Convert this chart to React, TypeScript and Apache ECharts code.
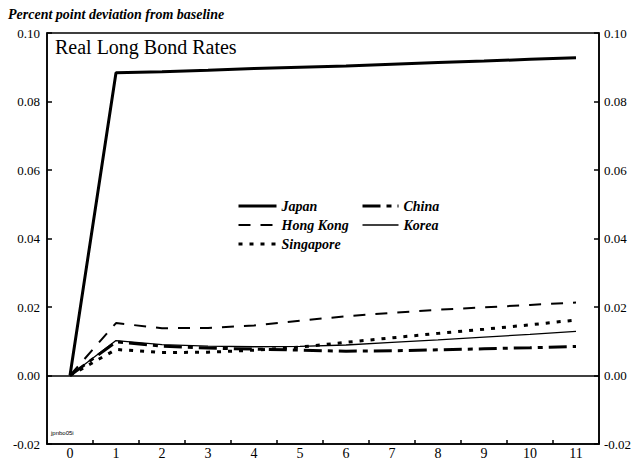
import React, { useEffect, useRef } from "react";
import * as echarts from "echarts";

const categories = ["0", "1", "2", "3", "4", "5", "6", "7", "8", "9", "10", "11"];
const japan = [0, 0.0884, 0.0887, 0.0891, 0.0896, 0.09, 0.0904, 0.0909, 0.0914, 0.0918, 0.0923, 0.0928];
const hongKong = [0, 0.0153, 0.0138, 0.0139, 0.0146, 0.016, 0.0173, 0.0183, 0.0192, 0.0199, 0.0206, 0.0213];
const china = [0, 0.0098, 0.0086, 0.008, 0.0077, 0.0074, 0.0071, 0.0072, 0.0075, 0.0078, 0.0081, 0.0085];
const korea = [0, 0.0102, 0.009, 0.0086, 0.0084, 0.0085, 0.0089, 0.0097, 0.0104, 0.0112, 0.012, 0.0129];
const singapore = [0, 0.0076, 0.0067, 0.0068, 0.0074, 0.0083, 0.0097, 0.011, 0.0123, 0.0135, 0.0148, 0.0162];
const yTicks = [-0.02, 0.0, 0.02, 0.04, 0.06, 0.08, 0.1];

const SERIF = "'Liberation Serif'";

const styles: Record<string, { width: number; type: any }> = {
  Japan: { width: 3, type: "solid" },
  China: { width: 3, type: [18, 6, 5, 6] },
  "Hong Kong": { width: 2, type: [12, 10] },
  Korea: { width: 1.3, type: "solid" },
  Singapore: { width: 3, type: [4, 7] },
};

export default function App() {
  const ref = useRef<HTMLDivElement>(null);
  useEffect(() => {
    if (!ref.current) return;
    const chart = echarts.init(ref.current, undefined, { renderer: "svg" });
    const yMin = yTicks[0];
    const yMax = yTicks[yTicks.length - 1];
    const yAxisBase = {
      type: "value",
      min: yMin,
      max: yMax,
      interval: 0.02,
      splitLine: { show: false },
      axisLine: { show: true, lineStyle: { color: "#000", width: 1.5 } },
      axisTick: { show: true, inside: true, length: 5, lineStyle: { color: "#000", width: 1.5 } },
      axisLabel: {
        color: "#000",
        fontFamily: SERIF,
        fontSize: 13,
        formatter: (v: number) => v.toFixed(2),
      },
    };
    const lineSeries = (name: string, data: number[], extra: any = {}) => ({
      name,
      type: "line",
      data,
      symbol: "none",
      symbolSize: 0,
      showSymbol: false,
      lineStyle: { color: "#000", width: styles[name].width, type: styles[name].type, cap: "butt" },
      itemStyle: { color: "#000" },
      z: 3,
      ...extra,
    });
    const legendItem = (name: string) => ({
      name,
      itemStyle: { opacity: 0 },
      lineStyle: { color: "#000", width: styles[name].width, type: styles[name].type },
    });
    const legendText = { fontFamily: SERIF, fontSize: 14, fontStyle: "italic", fontWeight: "bold", color: "#000" };
    chart.setOption({
      animation: false,
      backgroundColor: "#fff",
      grid: {
        left: 47,
        right: 37,
        top: 33,
        bottom: 20,
        show: true,
        borderColor: "#000",
        borderWidth: 1.5,
        containLabel: false,
        outerBoundsMode: "none",
      },
      title: [
        {
          text: "Percent point deviation from baseline",
          left: 3,
          top: 2,
          textStyle: { fontFamily: SERIF, fontSize: 14, fontStyle: "italic", fontWeight: "bold", color: "#000" },
        },
        {
          text: "Real Long Bond Rates",
          left: 50,
          top: 32,
          textStyle: { fontFamily: SERIF, fontSize: 20, fontWeight: "normal", color: "#000" },
        },
        {
          text: "jpnbo05i",
          left: 46,
          top: 425,
          textStyle: { fontFamily: "Liberation Sans", fontSize: 6, fontWeight: "normal", color: "#000" },
        },
      ],
      legend: [
        {
          data: ["Japan", "Hong Kong", "Singapore"].map(legendItem),
          orient: "vertical",
          left: 232,
          top: 194,
          itemWidth: 38,
          itemHeight: 12,
          itemGap: 5,
          textStyle: legendText,
        },
        {
          data: ["China", "Korea"].map(legendItem),
          orient: "vertical",
          left: 356,
          top: 194,
          itemWidth: 36,
          itemHeight: 12,
          itemGap: 5,
          textStyle: legendText,
        },
      ],
      xAxis: {
        type: "category",
        data: categories,
        boundaryGap: true,
        axisLine: { show: true, onZero: false, lineStyle: { color: "#000", width: 1.5 } },
        axisTick: { show: true, inside: true, length: 4, lineStyle: { color: "#000", width: 1.5 } },
        axisLabel: { color: "#000", fontFamily: SERIF, fontSize: 14, margin: 2 },
        splitLine: { show: false },
      },
      yAxis: [
        { ...yAxisBase, position: "left", axisLabel: { ...yAxisBase.axisLabel, margin: 7 } },
        { ...yAxisBase, position: "right", axisLabel: { ...yAxisBase.axisLabel, margin: 5 } },
      ],
      series: [
        lineSeries("Japan", japan, {
          markLine: {
            silent: true,
            symbol: "none",
            label: { show: false },
            lineStyle: { color: "#000", width: 1.5, type: "solid" },
            data: [{ yAxis: 0 }],
          },
        }),
        lineSeries("China", china),
        lineSeries("Hong Kong", hongKong),
        lineSeries("Korea", korea),
        lineSeries("Singapore", singapore),
      ],
    });
    return () => chart.dispose();
  }, []);
  return <div ref={ref} style={{ position: "fixed", left: 0, top: 0, width: 636, height: 464 }} />;
}
